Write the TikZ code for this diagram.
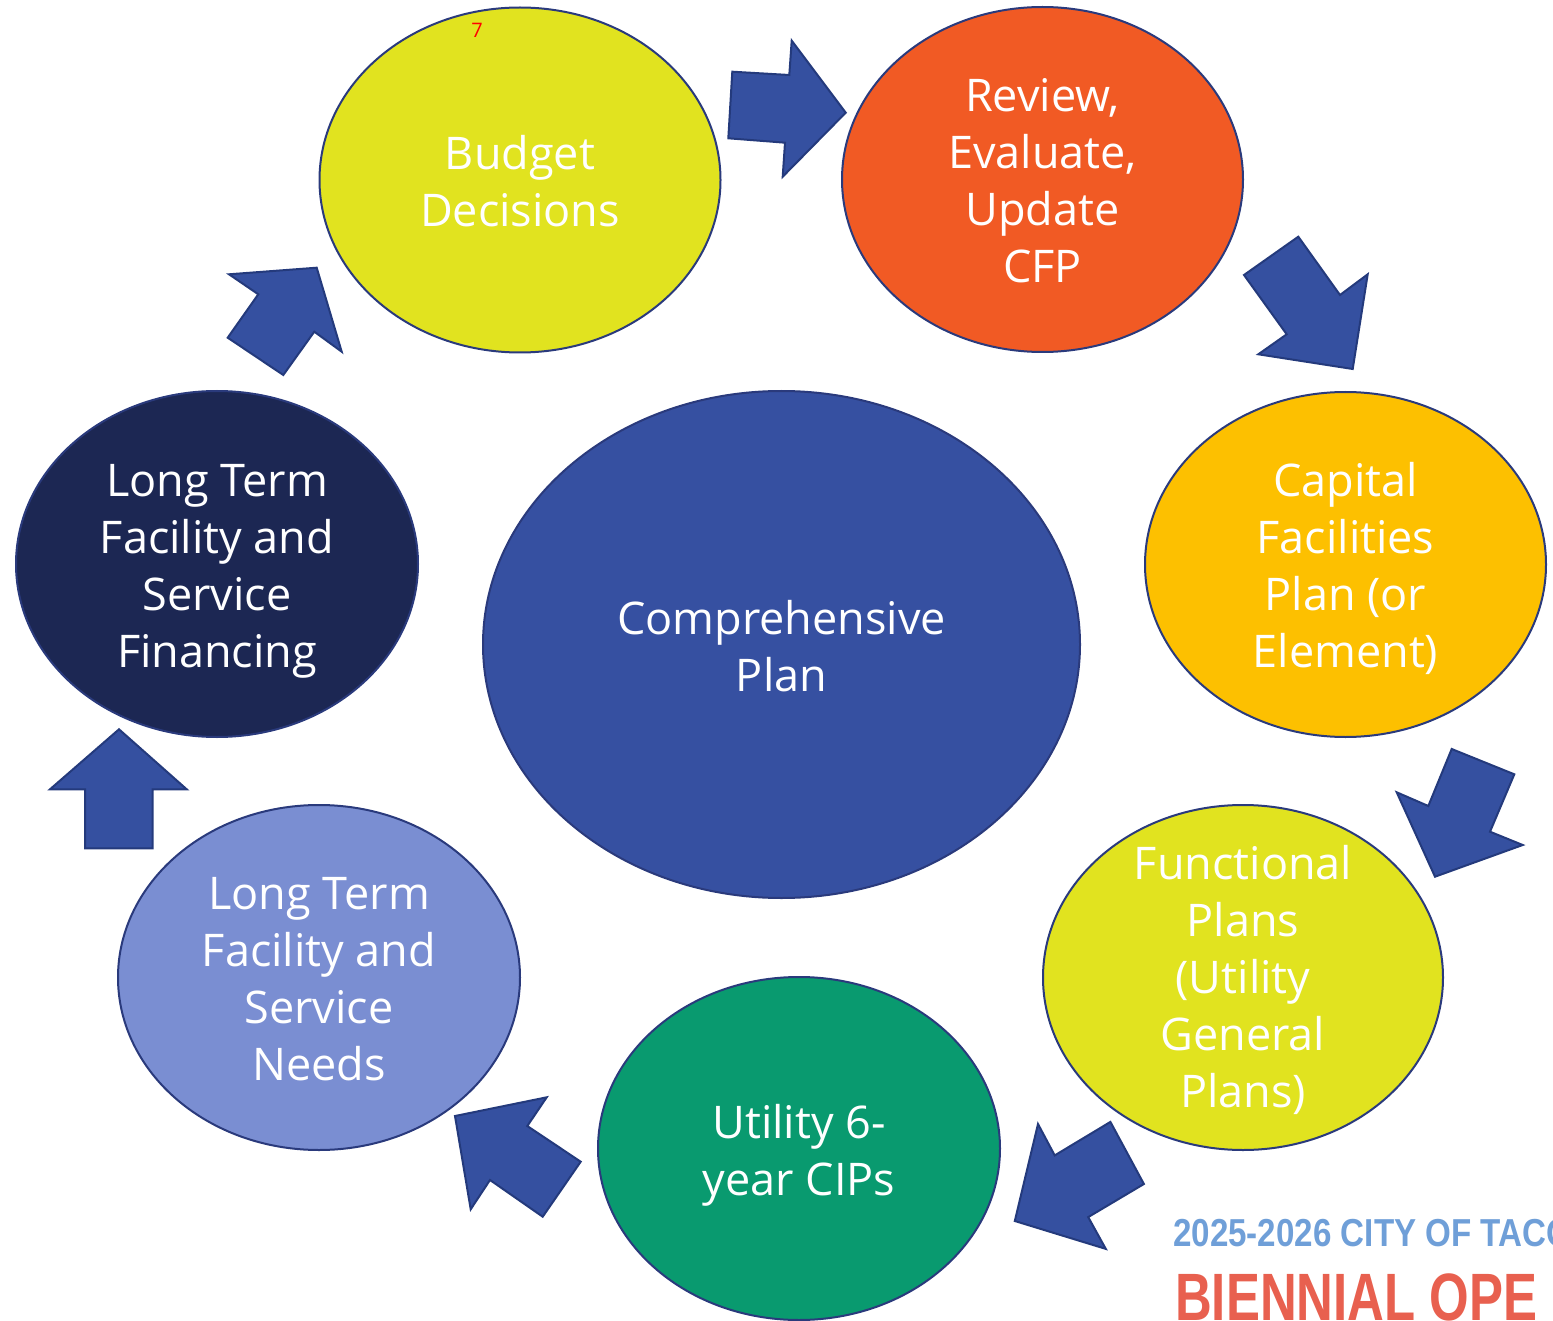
\documentclass[tikz,border=0pt]{standalone}
\usepackage{fontspec}
\setmainfont{Open Sans}
\newfontfamily\wmfontb[FakeStretch=0.85]{Liberation Sans Bold}
\newfontfamily\wmfontc[FakeStretch=0.76]{Liberation Sans Bold}
\usetikzlibrary{shapes.geometric}
\definecolor{cYel}{HTML}{E1E31F}
\definecolor{cOra}{HTML}{F15A24}
\definecolor{cGold}{HTML}{FDC000}
\definecolor{cGreen}{HTML}{099A6F}
\definecolor{cLBlue}{HTML}{7A8ED2}
\definecolor{cNavy}{HTML}{1C2753}
\definecolor{cBlue}{HTML}{3650A1}
\definecolor{cEdge}{HTML}{2A3A7C}
\definecolor{cArrow}{HTML}{3550A0}
\definecolor{cArrowEdge}{HTML}{243A7C}
\definecolor{cWmBlue}{HTML}{6F9FD8}
\definecolor{cWmRed}{HTML}{E8604F}
\begin{document}
\begin{tikzpicture}[x=1pt,y=-1pt,
  bub/.style={ellipse, draw=cEdge, line width=2pt, inner sep=0pt,
              minimum width=401pt, minimum height=345pt},
  btxt/.style={text=white, align=center, inner sep=0pt,
               font=\fontsize{45}{57}\selectfont},
  barrow/.style={fill=cArrow, draw=cArrowEdge, line width=2pt, line join=miter}]
\useasboundingbox (0,0) rectangle (1553,1321);
\clip (0,0) rectangle (1553,1321);

% bubbles
\node[bub, fill=cYel] (bd) at (520,180) {};
\node[bub, fill=cOra] (rev) at (1042.5,179.5) {};
\node[bub, fill=cGold] (cap) at (1345.5,564.5) {};
\node[bub, fill=cYel, minimum width=400pt] (fun) at (1243,977.5) {};
\node[bub, fill=cGreen, minimum width=402pt, minimum height=343pt] (uti) at (799,1148.5) {};
\node[bub, fill=cLBlue, minimum width=402pt] (nee) at (319,977.5) {};
\node[bub, fill=cNavy, minimum width=402pt, minimum height=346pt] (fin) at (217,564) {};
\node[bub, fill=cBlue, minimum width=597pt, minimum height=507pt] (com) at (781.5,644.5) {};

% texts
\node[btxt, yshift=-1pt] (tbd) at (bd) {Budget\\Decisions};
\node[btxt, yshift=-1pt] (trev) at (rev) {Review,\\Evaluate,\\Update\\CFP};
\node[btxt, yshift=-4pt] (tcap) at (cap) {Capital\\Facilities\\Plan (or\\Element)};
\node[btxt, yshift=-2pt] (tfun) at (fun) {Functional\\Plans\\(Utility\\General\\Plans)};
\node[btxt, yshift=-7pt] (tuti) at (uti) {Utility 6-\\year CIPs};
\node[btxt, yshift=-2pt] (tnee) at (nee) {Long Term\\Facility and\\Service\\Needs};
\node[btxt, yshift=-7pt] (tfin) at (fin) {Long Term\\Facility and\\Service\\Financing};
\node[btxt, yshift=-2pt] (tcom) at (com) {Comprehensive\\Plan};

\node[text=red, inner sep=0pt, font=\fontsize{20}{22}\selectfont] (seven) at (477,30) {7};

% block arrows
\draw[barrow] (732.3,71.7) -- (789.3,75) -- (791.7,40.7) -- (845.7,112.7) -- (782.7,176.7) -- (785,142.7) -- (728.3,138.3) -- cycle;
\draw[barrow] (1244,275) -- (1298.3,236.7) -- (1340,295) -- (1367.7,274.3) -- (1352.7,369) -- (1258.3,354.3) -- (1286.7,334.3) -- cycle;
\draw[barrow] (1451.7,749) -- (1514.3,774.3) -- (1490,831.7) -- (1522.7,845) -- (1435,876.7) -- (1396.7,792.3) -- (1428.3,806) -- cycle;
\draw[barrow] (1038,1124) -- (1054.7,1155.4) -- (1110.4,1121.9) -- (1143.9,1184) -- (1088.2,1217.1) -- (1105.8,1248.9) -- (1014.8,1221) -- cycle;
\draw[barrow] (455,1116) -- (546.7,1097.3) -- (527.3,1126) -- (580.7,1161.7) -- (542.7,1216.7) -- (490,1180) -- (470.7,1209.3) -- cycle;
\draw[barrow] (119,729.3) -- (186.7,789.3) -- (152.7,789.3) -- (152.7,848.3) -- (85,848.3) -- (85,789.3) -- (50,789.3) -- cycle;
\draw[barrow] (229,274.3) -- (316.7,267.7) -- (341.7,351.7) -- (314.3,331.7) -- (283.3,375) -- (227.7,337.7) -- (258.3,294.3) -- cycle;

% watermark (cut off at the right edge, as in the reference)
\node[anchor=base west, inner sep=0pt, text=cWmBlue, font=\wmfontb\fontsize{39}{40}\selectfont] (wm1) at (1173,1246) {2025-2026 CITY OF TACO};
\node[anchor=base west, inner sep=0pt, text=cWmRed, font=\wmfontc\fontsize{67}{70}\selectfont] (wm2) at (1175,1320) {BIENNIAL OPE};
\end{tikzpicture}
\end{document}
